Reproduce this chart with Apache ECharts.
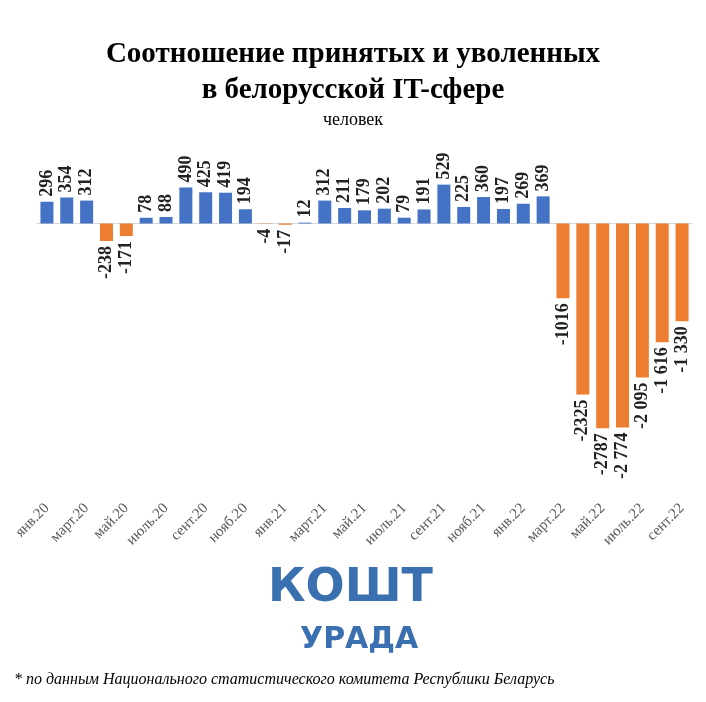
<!DOCTYPE html>
<html><head><meta charset="utf-8">
<script src="https://cdn.jsdelivr.net/npm/echarts@6/dist/echarts.min.js"></script>
<style>html,body{margin:0;background:#fff}#c{width:706px;height:702px}</style>
</head><body><div id="c"></div>
<script>
const months = ['янв.20','фев.20','март.20','апр.20','май.20','июнь.20','июль.20','авг.20','сент.20','окт.20','нояб.20','дек.20',
  'янв.21','фев.21','март.21','апр.21','май.21','июнь.21','июль.21','авг.21','сент.21','окт.21','нояб.21','дек.21',
  'янв.22','фев.22','март.22','апр.22','май.22','июнь.22','июль.22','авг.22','сент.22']
const values = [296,354,312,-238,-171,78,88,490,425,419,194,-4,-17,12,312,211,179,202,79,191,529,225,360,197,269,369,
  -1016,-2325,-2787,-2774,-2095,-1616,-1330]
const valueLabels = ['296','354','312','-238','-171','78','88','490','425','419','194','-4','-17','12','312','211','179','202','79','191','529','225','360','197','269','369',
  '-1016','-2325','-2787','-2 774','-2 095','-1 616','-1 330']

const chart = echarts.init(document.getElementById('c'))
const labelFont = { fontFamily: 'Liberation Serif', fontWeight: 'bold', fontSize: 18, color: '#222' }
chart.setOption({
  animation: false,
  title: [
    { text: 'Соотношение принятых и уволенных\nв белорусской IT-сфере', left: 'center', top: 32,
      textStyle: { fontFamily: 'Liberation Serif', fontWeight: 'bold', fontSize: 29, lineHeight: 36, color: '#000' } },
    { text: 'человек', left: 'center', top: 106, textStyle: { fontFamily: 'Liberation Serif', fontWeight: 'normal', fontSize: 18, color: '#000' } }
  ],
  grid: { left: 37, right: 14, top: 150, height: 294 },
  xAxis: [
    { type: 'category', data: months,
      axisLine: { onZero: true, lineStyle: { color: '#d9d9d9' } },
      axisTick: { interval: 1, length: 5, lineStyle: { color: '#d9d9d9' } },
      axisLabel: { show: false } },
    { type: 'category', data: months, position: 'bottom',
      axisLine: { show: false, onZero: false }, axisTick: { show: false },
      axisLabel: { interval: 1, rotate: 45, margin: 62, color: '#595959', fontFamily: 'Liberation Serif', fontSize: 15 } }
  ],
  yAxis: { type: 'value', min: -3000, max: 1000, show: false, splitLine: { show: false } },
  series: [{
    type: 'bar', barWidth: 13, xAxisIndex: 0,
    data: values.map((v, i) => ({
      value: v,
      itemStyle: { color: v < 0 ? '#ED7D31' : '#4472C4' },
      label: {
        show: true, formatter: valueLabels[i], rotate: 90,
        position: v < 0 ? 'bottom' : 'top', distance: 5,
        align: v < 0 ? 'right' : 'left', verticalAlign: 'middle', ...labelFont
      }
    }))
  }],
  graphic: [
    { type: 'text', left: 268, top: 566, style: { text: 'КОШТ', font: 'bold 46px "DejaVu Sans"', fill: '#3a6fb0' } },
    { type: 'text', left: 300, top: 625, style: { text: 'УРАДА', font: 'bold 30px "DejaVu Sans"', fill: '#3a6fb0' } },
    { type: 'text', left: 14, top: 672, style: { text: '* по данным Национального статистического комитета Республики Беларусь',
      font: 'italic 16px "Liberation Serif"', fill: '#000' } }
  ]
})
</script></body></html>
